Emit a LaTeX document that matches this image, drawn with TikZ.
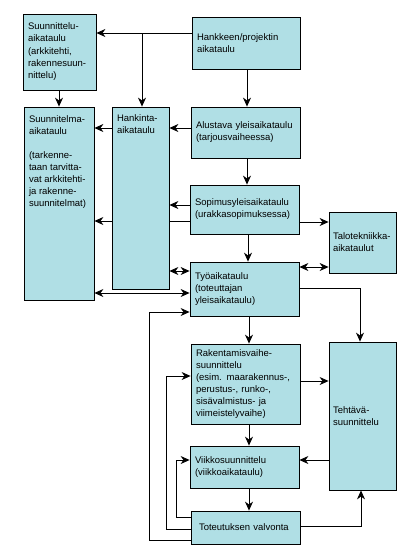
\documentclass[tikz,border=0pt]{standalone}
\usepackage{fontspec}
\setmainfont{Liberation Sans}
\usetikzlibrary{arrows.meta,backgrounds}
\definecolor{boxfill}{RGB}{176,223,229}
\tikzset{
  box/.style={draw=black, line width=0.8pt, fill=boxfill, rectangle, inner xsep=5pt, inner ysep=0pt,
    align=left, font=\fontsize{9.5}{12}\selectfont},
  arr/.style={-{Stealth[length=9pt,width=8pt]}, line width=0.8pt},
  darr/.style={{Stealth[length=9pt,width=8pt]}-{Stealth[length=9pt,width=8pt]}, line width=0.8pt},
}
\begin{document}
\begin{tikzpicture}[x=1pt,y=-1pt]
\useasboundingbox (0,0) rectangle (420,560);
% boxes
\node[box, minimum width=73, minimum height=76, text width=63] (sut) at (59.5,52)
  {Suunnittelu-\\aikataulu\\[1pt](arkkitehti,\\rakennesuun-\\nittelu)};
\node[box, inner ysep=0pt] (sma) at (59,203.5)
  {\parbox[c][193pt][t]{60pt}{\raggedright\vspace*{9pt}Suunnitelma-\\aikataulu\\[12pt](tarkenne-\\taan tarvitta-\\vat arkkitehti-\\ja rakenne-\\suunnitelmat)}};
\node[box, inner ysep=0pt] (han) at (140.5,198)
  {\parbox[c][182pt][t]{47pt}{\raggedright\vspace*{8pt}Hankinta-\\aikataulu}};
\node[box, minimum width=108, minimum height=52, text width=98] (hank) at (246,43)
  {Hankkeen/projektin\\aikataulu};
\node[box, minimum width=109, minimum height=51, text width=99] (alu) at (245.5,132.5)
  {Alustava yleisaikataulu\\(tarjousvaiheessa)};
\node[box, minimum width=109, minimum height=49, text width=99] (sop) at (244.5,209.5)
  {Sopimusyleisaikataulu\\(urakkasopimuksessa)};
\node[box, minimum width=67, minimum height=61, text width=62, inner xsep=2.5pt] (talo) at (362.5,242.5)
  {\hspace*{1.5pt}Talotekniikka-\\\hspace*{1.5pt}aikataulut};
\node[box, minimum width=109, minimum height=54, text width=99] (tyo) at (244.5,289)
  {Työaikataulu\\(toteuttajan\\yleisaikataulu)};
\node[box, minimum width=109, minimum height=80, text width=99] (rak) at (245.5,384)
  {Rakentamisvaihe-\\suunnittelu\\(esim. maarakennus-,\\perustus-, runko-,\\sisävalmistus- ja\\viimeistelyvaihe)};
\node[box, minimum width=67, minimum height=148, text width=62, inner xsep=2.5pt] (teh) at (362.5,416)
  {\hspace*{1.5pt}Tehtävä-\\\hspace*{1.5pt}suunnittelu\\[10pt]};
\node[box, minimum width=109, minimum height=42, text width=99] (vii) at (244.5,467)
  {Viikkosuunnittelu\\(viikkoaikataulu)};
\node[box, minimum width=109, minimum height=33, text width=99, inner xsep=5pt] (tot) at (245.5,527.5)
  {\hspace*{3pt}Toteutuksen valvonta};
% connectors
\coordinate (j1) at (142,33);
\draw[arr] (hank.west |- 0,33) -- (sut.east |- 0,33);
\draw[arr] (j1) -- (j1 |- han.north);
\draw[arr] (hank.south -| 247,0) -- (alu.north -| 247,0);
\draw[arr] (sut.south -| 59,0) -- (sma.north -| 59,0);
\draw[arr] (han.west |- 0,128) -- (sma.east |- 0,128);
\draw[arr] (alu.west |- 0,128) -- (han.east |- 0,128);
\draw[arr] (alu.south -| 247,0) -- (sop.north -| 247,0);
\draw[arr] (sop.west |- 0,205) -- (han.east |- 0,205);
\begin{pgfonlayer}{background}
\draw[arr] (sop.west |- 0,221) -- (sma.east |- 0,221);
\end{pgfonlayer}
\draw[arr] (sop.east |- 0,222) -- (talo.west |- 0,222);
\draw[arr] (sop.south -| 248,0) -- (tyo.north -| 248,0);
\draw[darr] (tyo.east |- 0,267) -- (talo.west |- 0,267);
\draw[darr] (han.east |- 0,271) -- (tyo.west |- 0,271);
\draw[darr] (sma.east |- 0,293) -- (tyo.west |- 0,293);
\draw[arr] (tot.west |- 0,540) -| (149,312) -- (tyo.west |- 0,312);
\draw[arr] (tyo.east |- 0,288) -| (teh.north -| 360,0);
\draw[arr] (tyo.south -| 249,0) -- (rak.north -| 249,0);
\draw[arr] (rak.east |- 0,381) -- (teh.west |- 0,381);
\draw[arr] (tot.west |- 0,529) -| (166,376) -- (rak.west |- 0,376);
\draw[arr] (tot.west |- 0,517) -| (176,460) -- (vii.west |- 0,460);
\draw[arr] (rak.south -| 249,0) -- (vii.north -| 249,0);
\draw[arr] (teh.west |- 0,460) -- (vii.east |- 0,460);
\draw[arr] (vii.south -| 249,0) -- (tot.north -| 249,0);
\draw[arr] (tot.east |- 0,526) -| (teh.south -| 361,0);
\end{tikzpicture}
\end{document}
